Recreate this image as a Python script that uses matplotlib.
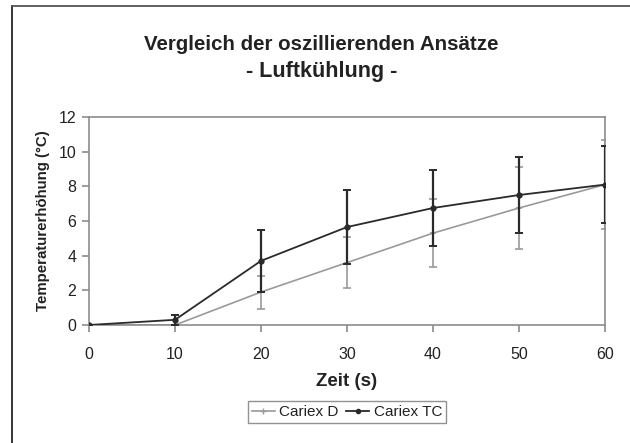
import matplotlib
matplotlib.use("Agg")
import matplotlib.pyplot as plt
from matplotlib.lines import Line2D

plt.rcParams['font.family'] = ['Liberation Sans', 'DejaVu Sans']

zeit = [0, 10, 20, 30, 40, 50, 60]
cariex_d = [0.0, 0.0, 1.9, 3.6, 5.3, 6.75, 8.1]
cariex_d_err = [0.0, 0.0, 0.95, 1.45, 1.97, 2.35, 2.57]
cariex_tc = [0.0, 0.3, 3.7, 5.65, 6.75, 7.5, 8.1]
cariex_tc_err = [0.0, 0.3, 1.8, 2.15, 2.2, 2.22, 2.23]

fig = plt.figure(figsize=(6.3, 4.43), dpi=100)
ax = fig.add_axes([89/630, 1-325/443, (605-89)/630, (325-117)/443])

ax.errorbar(zeit, cariex_d, yerr=cariex_d_err, color='#9a9a9a', lw=1.2,
            marker='_', ms=5, mew=1.2, capsize=3, elinewidth=1.2, capthick=1.2,
            label='Cariex D', zorder=2)
ax.errorbar(zeit, cariex_tc, yerr=cariex_tc_err, color='#2a2a2a', lw=1.3,
            marker='o', ms=3.5, capsize=3, elinewidth=1.6, capthick=1.4,
            label='Cariex TC', zorder=3)

ax.set_xlim(0, 60)
ax.set_ylim(0, 12)
ax.set_xticks(zeit)
ax.set_yticks(range(0, 13, 2))
for s in ax.spines.values():
    s.set_color('#8c8c8c')
    s.set_linewidth(1.2)
ax.tick_params(axis='both', colors='#8c8c8c', labelcolor='#222222',
               labelsize=11.5, length=5, width=1.2)
ax.tick_params(axis='x', pad=11)
ax.tick_params(axis='y', pad=4)

ax.set_xlabel('Zeit (s)', fontsize=13.5, fontweight='bold', color='#222222', labelpad=8)
ax.set_ylabel('Temperaturerhöhung (°C)', fontsize=10.8, fontweight='bold',
              color='#222222', labelpad=6)

fig.text(321/630, 1-44/443, 'Vergleich der oszillierenden Ansätze',
         ha='center', va='center', fontsize=14.8, fontweight='bold', color='#222222')
fig.text(322/630, 1-71/443, '- Luftkühlung -',
         ha='center', va='center', fontsize=15.5, fontweight='bold', color='#222222')

handles = [Line2D([], [], color='#9a9a9a', marker='+', ms=4, lw=1.2),
           Line2D([], [], color='#2a2a2a', marker='o', ms=3, lw=1.3)]
leg = fig.legend(handles, ['Cariex D', 'Cariex TC'], loc='center',
                 bbox_to_anchor=(347/630, 1-412/443), ncol=2, fontsize=11,
                 frameon=True, fancybox=False, handlelength=1.5, handletextpad=0.3,
                 columnspacing=0.5, borderpad=0.25, labelcolor='#222222')
leg.get_frame().set_edgecolor('#777777')
leg.get_frame().set_linewidth(1.0)

# outer frame lines (left and top)
fig.add_artist(Line2D([12/630, 12/630], [0, 1-6/443], transform=fig.transFigure,
                      color='#222222', lw=1.3))
fig.add_artist(Line2D([12/630, 1], [1-6/443, 1-6/443], transform=fig.transFigure,
                      color='#555555', lw=1.3))

fig.savefig('out.png', dpi=100)
